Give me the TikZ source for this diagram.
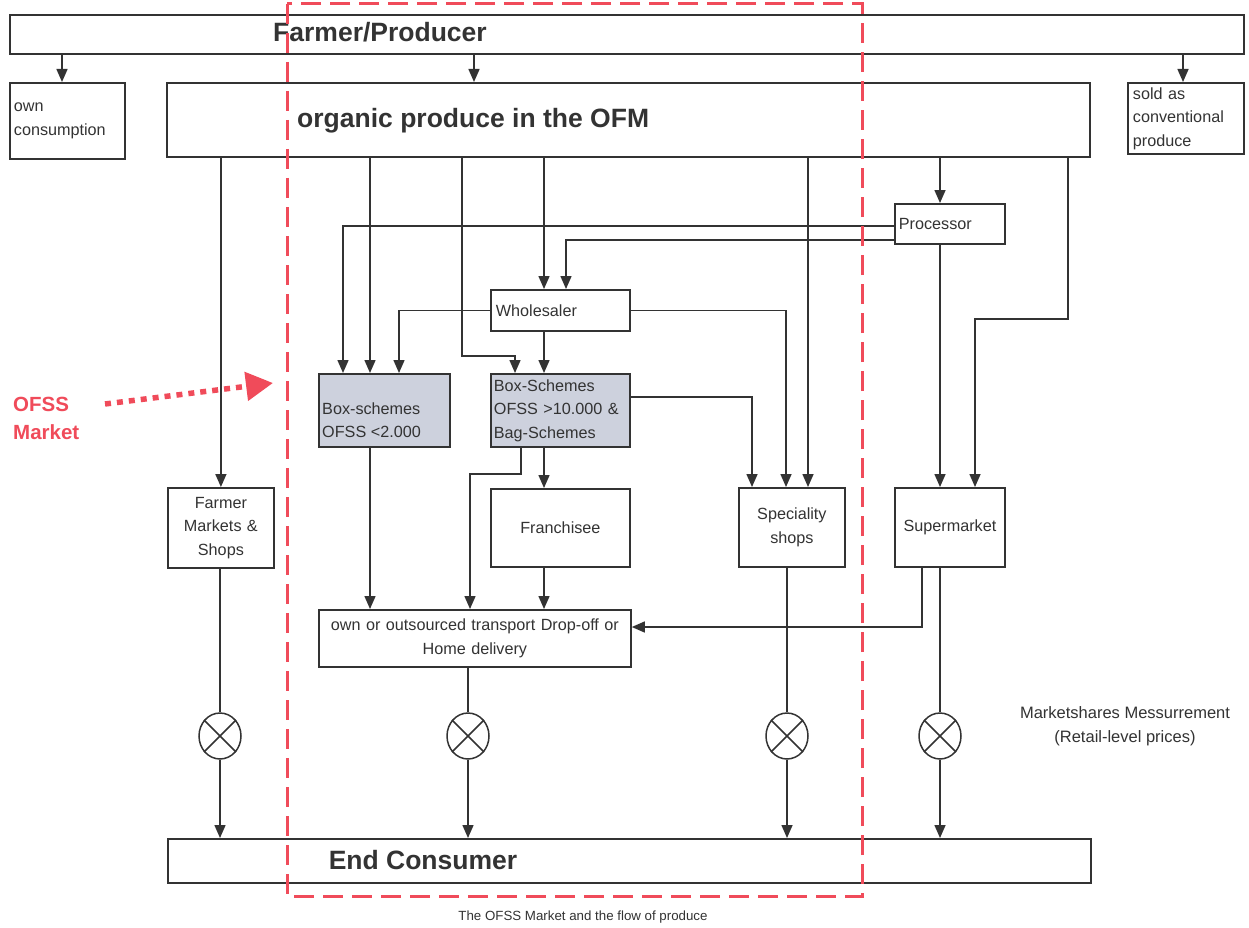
\documentclass[tikz,border=0pt]{standalone}
\usepackage{fontspec}
\setmainfont{Liberation Sans}
\usetikzlibrary{arrows.meta,shapes.geometric}
\definecolor{ink}{HTML}{333333}
\definecolor{redd}{HTML}{F04B5A}
\definecolor{boxfill}{HTML}{CDD1DD}
\begin{document}
\begin{tikzpicture}[x=1pt,y=-1pt,
  box/.style={draw=ink, line width=1.8pt, rectangle, inner xsep=4pt, inner ysep=0pt, anchor=north west,
    font=\fontsize{16.2}{23.5}\selectfont, text=ink},
  lbox/.style={box, align=left},
  cbox/.style={box, align=center},
  small/.style={font=\fontsize{16.2}{23.5}\selectfont, text=ink, inner sep=0pt},
  big/.style={font=\fontsize{26.5}{30}\selectfont\bfseries, text=ink, inner sep=0pt},
  flow/.style={draw=ink, line width=1.5pt, -{Triangle[length=13pt,width=11pt]}},
  link/.style={draw=ink, line width=1.5pt},
  xc/.style={draw=ink, line width=1.5pt, ellipse, minimum width=42pt, minimum height=46pt, inner sep=0pt},
]
\fill[white] (0,0) rectangle (1249,928);
\useasboundingbox (0,0) rectangle (1249,928);

\foreach \v in {62,474,1183,370,462,515,544,808,940,1068,975,343,566,399,752,786,521,470,922}
  \coordinate (x\v) at (\v,0);
\foreach \v in {356,319,226,240,397,474,627}
  \coordinate (y\v) at (0,\v);

% boxes
\node[box, minimum width=1234pt, minimum height=39pt] (farmer) at (9,14) {};
\node[big] (farmerT) at (380,32) {Farmer/Producer};
\node[lbox, text width=107pt, minimum height=76pt] (own) at (9,82) {own\\consumption};
\node[box, minimum width=923pt, minimum height=74pt] (organic) at (166,82) {};
\node[big, anchor=west] (organicT) at (297,121) {organic produce in the OFM};
\node[lbox, text width=106pt, inner xsep=5pt, minimum height=71pt] (sold) at (1127,82) {sold as\\conventional\\produce};
\node[lbox, text width=102pt, minimum height=40pt] (processor) at (894,203) {Processor};
\node[lbox, text width=129pt, inner xsep=5pt, minimum height=41pt] (wholesaler) at (490,289) {Wholesaler};
\node[box, fill=boxfill, minimum width=131pt, minimum height=73pt] (bsmall) at (318,373) {};
\node[small, anchor=west, align=left] (bsmallT) at (322,420) {Box-schemes\\OFSS <2.000};
\node[lbox, fill=boxfill, text width=133pt, inner xsep=3pt, minimum height=73pt] (bbig) at (490,373) {Box-Schemes\\OFSS >10.000 \&\\Bag-Schemes};
\node[cbox, text width=131pt, minimum height=78pt] (franchisee) at (490,488) {Franchisee};
\node[cbox, text width=98pt, minimum height=80pt] (fm) at (167,487) {Farmer\\Markets \&\\Shops};
\node[cbox, text width=98pt, minimum height=79pt] (spec) at (738,487) {Speciality\\shops};
\node[cbox, text width=102pt, minimum height=79pt] (super) at (894,487) {Supermarket};
\node[cbox, text width=304pt, minimum height=57pt] (transport) at (318,609) {own or outsourced transport Drop-off or\\Home delivery};
\node[box, minimum width=923pt, minimum height=44pt] (ec) at (167,838) {};
\node[big] (ecT) at (423,860) {End Consumer};

% crossed circles
\foreach \n/\x in {c1/220,c2/468,c3/787,c4/940}{
  \node[xc] (\n) at (\x,736) {};
  \draw[link] (\n.45) -- (\n.225) (\n.135) -- (\n.315);
}

% connectors
\draw[flow] (x62 |- farmer.south) -- (x62 |- own.north);
\draw[flow] (x474 |- farmer.south) -- (x474 |- organic.north);
\draw[flow] (x1183 |- farmer.south) -- (x1183 |- sold.north);
\draw[flow] (fm.north |- organic.south) -- (fm.north);
\draw[flow] (x370 |- organic.south) -- (x370 |- bsmall.north);
\draw[flow] (x462 |- organic.south) -- (x462 |- y356) -- (x515 |- y356) -- (x515 |- bbig.north);
\draw[flow] (x544 |- organic.south) -- (x544 |- wholesaler.north);
\draw[flow] (x808 |- organic.south) -- (x808 |- spec.north);
\draw[flow] (x940 |- organic.south) -- (x940 |- processor.north);
\draw[flow] (x1068 |- organic.south) -- (x1068 |- y319) -- (x975 |- y319) -- (x975 |- super.north);
\draw[flow] (processor.west |- y226) -- (x343 |- y226) -- (x343 |- bsmall.north);
\draw[flow] (processor.west |- y240) -- (x566 |- y240) -- (x566 |- wholesaler.north);
\draw[flow] (x940 |- processor.south) -- (x940 |- super.north);
\draw[flow] (wholesaler.west) -- (x399 |- wholesaler.west) -- (x399 |- bsmall.north);
\draw[flow] (x544 |- wholesaler.south) -- (x544 |- bbig.north);
\draw[flow] (wholesaler.east) -- (x786 |- wholesaler.east) -- (x786 |- spec.north);
\draw[flow] (bbig.east |- y397) -- (x752 |- y397) -- (x752 |- spec.north);
\draw[flow] (x370 |- bsmall.south) -- (x370 |- transport.north);
\draw[flow] (x521 |- bbig.south) -- (x521 |- y474) -- (x470 |- y474) -- (x470 |- transport.north);
\draw[flow] (x544 |- bbig.south) -- (x544 |- franchisee.north);
\draw[flow] (x544 |- franchisee.south) -- (x544 |- transport.north);
\draw[flow] (x922 |- super.south) -- (x922 |- y627) -- (transport.east |- y627);

\draw[link] (fm.south -| c1.north) -- (c1.north);
\draw[flow] (c1.south) -- (c1.south |- ec.north);
\draw[link] (transport.south -| c2.north) -- (c2.north);
\draw[flow] (c2.south) -- (c2.south |- ec.north);
\draw[link] (spec.south -| c3.north) -- (c3.north);
\draw[flow] (c3.south) -- (c3.south |- ec.north);
\draw[link] (super.south -| c4.north) -- (c4.north);
\draw[flow] (c4.south) -- (c4.south |- ec.north);

% texts
\node[font=\fontsize{16.5}{24}\selectfont, text=ink, inner sep=0pt, align=center] (msm) at (1125,726) {Marketshares Messurrement\\(Retail-level prices)};
\node[font=\fontsize{13.3}{15}\selectfont, text=ink, inner sep=0pt] (caption) at (583,917) {The OFSS Market and the flow of produce};

% OFSS market
\draw[redd, line width=3pt, dash pattern=on 20pt off 9pt] (287,4) rectangle (862,896);
\node[font=\fontsize{20.5}{28}\selectfont\bfseries, text=redd, align=left, anchor=west, inner sep=0pt] (ofss) at (13,418) {OFSS\\Market};
\coordinate (ofssTip) at (273,383);
\draw[redd, line width=5.5pt, dash pattern=on 6pt off 6pt, -{Triangle[length=27pt,width=28pt]}] (105,404) -- (ofssTip);
\end{tikzpicture}
\end{document}
